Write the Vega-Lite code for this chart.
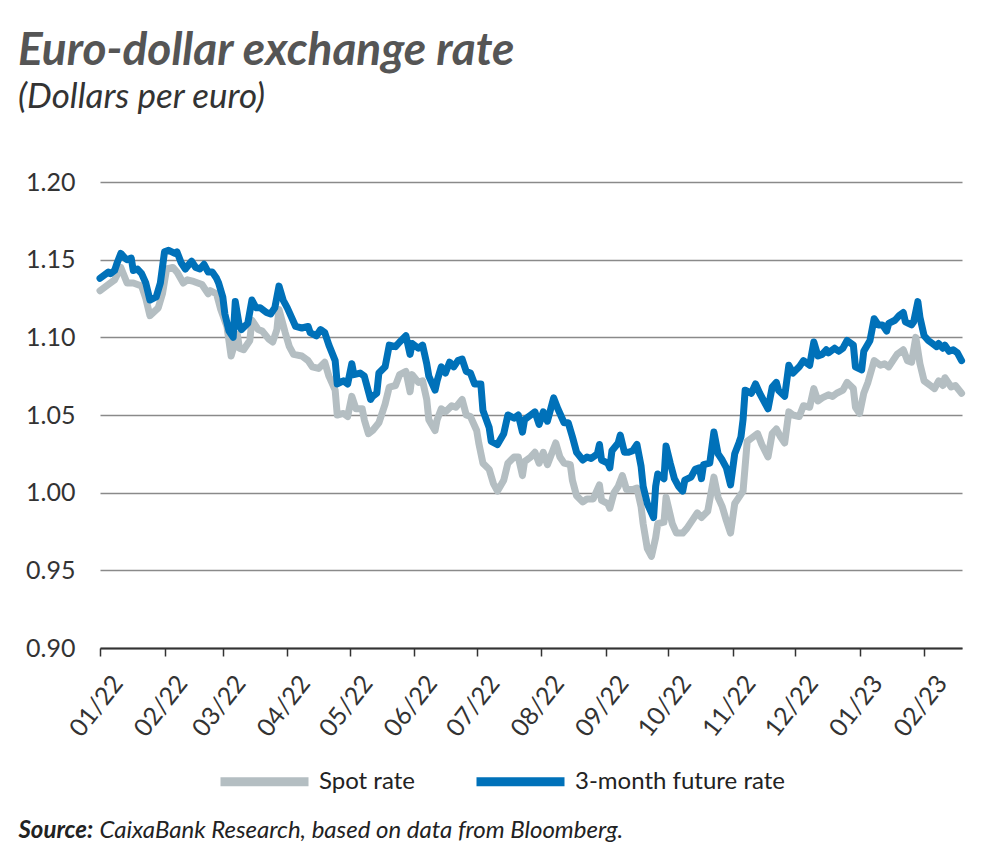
{
"$schema": "https://vega.github.io/schema/vega-lite/v6.json",
"width": 862, "height": 466,
"autosize": {"type": "none"},
"padding": {"left": 100, "top": 182, "right": 36, "bottom": 217},
"background": "white",
"config": {"view": {"stroke": null}, "font": "Lato"},
"title": {"text": "Euro-dollar exchange rate", "subtitle": "(Dollars per euro)", "anchor": "start", "frame": "group", "dx": -82, "offset": 54,
  "font": "Lato", "fontSize": 46, "fontWeight": "bold", "fontStyle": "italic", "color": "#555555",
  "subtitleFont": "Lato", "subtitleFontSize": 35, "subtitleFontStyle": "italic", "subtitleColor": "#333333", "subtitlePadding": 5},
"data": {"values": [
{"d":"2022-01-01","s":"Spot rate","v":1.130},{"d":"2022-01-05","s":"Spot rate","v":1.134},{"d":"2022-01-08","s":"Spot rate","v":1.137},{"d":"2022-01-11","s":"Spot rate","v":1.145},{"d":"2022-01-14","s":"Spot rate","v":1.135},{"d":"2022-01-17","s":"Spot rate","v":1.135},{"d":"2022-01-21","s":"Spot rate","v":1.133},{"d":"2022-01-23","s":"Spot rate","v":1.125},{"d":"2022-01-25","s":"Spot rate","v":1.114},{"d":"2022-01-29","s":"Spot rate","v":1.119},{"d":"2022-01-31","s":"Spot rate","v":1.128},
{"d":"2022-02-02","s":"Spot rate","v":1.144},{"d":"2022-02-05","s":"Spot rate","v":1.145},{"d":"2022-02-07","s":"Spot rate","v":1.142},{"d":"2022-02-10","s":"Spot rate","v":1.135},{"d":"2022-02-12","s":"Spot rate","v":1.137},{"d":"2022-02-15","s":"Spot rate","v":1.136},{"d":"2022-02-19","s":"Spot rate","v":1.134},{"d":"2022-02-22","s":"Spot rate","v":1.128},{"d":"2022-02-23","s":"Spot rate","v":1.130},{"d":"2022-02-26","s":"Spot rate","v":1.128},{"d":"2022-02-28","s":"Spot rate","v":1.118},
{"d":"2022-03-03","s":"Spot rate","v":1.107},{"d":"2022-03-05","s":"Spot rate","v":1.088},{"d":"2022-03-08","s":"Spot rate","v":1.102},{"d":"2022-03-09","s":"Spot rate","v":1.093},{"d":"2022-03-11","s":"Spot rate","v":1.092},{"d":"2022-03-14","s":"Spot rate","v":1.098},{"d":"2022-03-15","s":"Spot rate","v":1.111},{"d":"2022-03-18","s":"Spot rate","v":1.105},{"d":"2022-03-20","s":"Spot rate","v":1.104},{"d":"2022-03-23","s":"Spot rate","v":1.099},{"d":"2022-03-25","s":"Spot rate","v":1.097},{"d":"2022-03-27","s":"Spot rate","v":1.105},{"d":"2022-03-28","s":"Spot rate","v":1.118},{"d":"2022-03-31","s":"Spot rate","v":1.103},
{"d":"2022-04-02","s":"Spot rate","v":1.094},{"d":"2022-04-04","s":"Spot rate","v":1.089},{"d":"2022-04-08","s":"Spot rate","v":1.088},{"d":"2022-04-11","s":"Spot rate","v":1.085},{"d":"2022-04-13","s":"Spot rate","v":1.081},{"d":"2022-04-16","s":"Spot rate","v":1.080},{"d":"2022-04-19","s":"Spot rate","v":1.084},{"d":"2022-04-21","s":"Spot rate","v":1.075},{"d":"2022-04-24","s":"Spot rate","v":1.066},{"d":"2022-04-25","s":"Spot rate","v":1.050},{"d":"2022-04-28","s":"Spot rate","v":1.051},{"d":"2022-04-30","s":"Spot rate","v":1.049},
{"d":"2022-05-02","s":"Spot rate","v":1.062},{"d":"2022-05-04","s":"Spot rate","v":1.054},{"d":"2022-05-07","s":"Spot rate","v":1.054},{"d":"2022-05-08","s":"Spot rate","v":1.047},{"d":"2022-05-10","s":"Spot rate","v":1.038},{"d":"2022-05-12","s":"Spot rate","v":1.040},{"d":"2022-05-15","s":"Spot rate","v":1.045},{"d":"2022-05-18","s":"Spot rate","v":1.057},{"d":"2022-05-20","s":"Spot rate","v":1.068},{"d":"2022-05-23","s":"Spot rate","v":1.069},{"d":"2022-05-25","s":"Spot rate","v":1.076},{"d":"2022-05-28","s":"Spot rate","v":1.078},{"d":"2022-05-30","s":"Spot rate","v":1.065},{"d":"2022-05-31","s":"Spot rate","v":1.076},
{"d":"2022-06-03","s":"Spot rate","v":1.071},{"d":"2022-06-05","s":"Spot rate","v":1.072},{"d":"2022-06-07","s":"Spot rate","v":1.060},{"d":"2022-06-08","s":"Spot rate","v":1.047},{"d":"2022-06-11","s":"Spot rate","v":1.040},{"d":"2022-06-12","s":"Spot rate","v":1.047},{"d":"2022-06-14","s":"Spot rate","v":1.054},{"d":"2022-06-16","s":"Spot rate","v":1.052},{"d":"2022-06-19","s":"Spot rate","v":1.056},{"d":"2022-06-21","s":"Spot rate","v":1.055},{"d":"2022-06-24","s":"Spot rate","v":1.060},{"d":"2022-06-26","s":"Spot rate","v":1.050},{"d":"2022-06-28","s":"Spot rate","v":1.049},
{"d":"2022-07-01","s":"Spot rate","v":1.040},{"d":"2022-07-02","s":"Spot rate","v":1.032},{"d":"2022-07-04","s":"Spot rate","v":1.019},{"d":"2022-07-07","s":"Spot rate","v":1.015},{"d":"2022-07-09","s":"Spot rate","v":1.006},{"d":"2022-07-11","s":"Spot rate","v":1.001},{"d":"2022-07-14","s":"Spot rate","v":1.008},{"d":"2022-07-16","s":"Spot rate","v":1.019},{"d":"2022-07-19","s":"Spot rate","v":1.023},{"d":"2022-07-21","s":"Spot rate","v":1.023},{"d":"2022-07-23","s":"Spot rate","v":1.011},{"d":"2022-07-24","s":"Spot rate","v":1.020},{"d":"2022-07-27","s":"Spot rate","v":1.023},{"d":"2022-07-29","s":"Spot rate","v":1.026},{"d":"2022-07-31","s":"Spot rate","v":1.019},
{"d":"2022-08-02","s":"Spot rate","v":1.026},{"d":"2022-08-04","s":"Spot rate","v":1.018},{"d":"2022-08-08","s":"Spot rate","v":1.032},{"d":"2022-08-10","s":"Spot rate","v":1.023},{"d":"2022-08-12","s":"Spot rate","v":1.019},{"d":"2022-08-15","s":"Spot rate","v":1.018},{"d":"2022-08-16","s":"Spot rate","v":1.008},{"d":"2022-08-18","s":"Spot rate","v":0.998},{"d":"2022-08-21","s":"Spot rate","v":0.994},{"d":"2022-08-23","s":"Spot rate","v":0.996},{"d":"2022-08-26","s":"Spot rate","v":0.996},{"d":"2022-08-29","s":"Spot rate","v":1.005},{"d":"2022-08-30","s":"Spot rate","v":0.995},
{"d":"2022-09-02","s":"Spot rate","v":0.993},{"d":"2022-09-03","s":"Spot rate","v":0.990},{"d":"2022-09-05","s":"Spot rate","v":1.000},{"d":"2022-09-07","s":"Spot rate","v":1.004},{"d":"2022-09-09","s":"Spot rate","v":1.011},{"d":"2022-09-11","s":"Spot rate","v":1.002},{"d":"2022-09-14","s":"Spot rate","v":1.002},{"d":"2022-09-16","s":"Spot rate","v":1.003},{"d":"2022-09-18","s":"Spot rate","v":0.991},{"d":"2022-09-19","s":"Spot rate","v":0.980},{"d":"2022-09-21","s":"Spot rate","v":0.964},{"d":"2022-09-23","s":"Spot rate","v":0.959},{"d":"2022-09-25","s":"Spot rate","v":0.971},{"d":"2022-09-26","s":"Spot rate","v":0.980},{"d":"2022-09-29","s":"Spot rate","v":0.981},{"d":"2022-09-30","s":"Spot rate","v":0.997},
{"d":"2022-10-03","s":"Spot rate","v":0.980},{"d":"2022-10-05","s":"Spot rate","v":0.974},{"d":"2022-10-08","s":"Spot rate","v":0.974},{"d":"2022-10-10","s":"Spot rate","v":0.977},{"d":"2022-10-13","s":"Spot rate","v":0.983},{"d":"2022-10-15","s":"Spot rate","v":0.987},{"d":"2022-10-17","s":"Spot rate","v":0.984},{"d":"2022-10-20","s":"Spot rate","v":0.988},{"d":"2022-10-23","s":"Spot rate","v":1.010},{"d":"2022-10-25","s":"Spot rate","v":0.997},{"d":"2022-10-27","s":"Spot rate","v":0.991},{"d":"2022-10-29","s":"Spot rate","v":0.982},{"d":"2022-10-31","s":"Spot rate","v":0.974},
{"d":"2022-11-02","s":"Spot rate","v":0.993},{"d":"2022-11-04","s":"Spot rate","v":0.997},{"d":"2022-11-06","s":"Spot rate","v":1.001},{"d":"2022-11-08","s":"Spot rate","v":1.033},{"d":"2022-11-10","s":"Spot rate","v":1.035},{"d":"2022-11-13","s":"Spot rate","v":1.038},{"d":"2022-11-15","s":"Spot rate","v":1.031},{"d":"2022-11-18","s":"Spot rate","v":1.023},{"d":"2022-11-20","s":"Spot rate","v":1.038},{"d":"2022-11-22","s":"Spot rate","v":1.041},{"d":"2022-11-24","s":"Spot rate","v":1.036},{"d":"2022-11-26","s":"Spot rate","v":1.032},{"d":"2022-11-28","s":"Spot rate","v":1.052},{"d":"2022-11-30","s":"Spot rate","v":1.050},
{"d":"2022-12-03","s":"Spot rate","v":1.049},{"d":"2022-12-05","s":"Spot rate","v":1.056},{"d":"2022-12-08","s":"Spot rate","v":1.055},{"d":"2022-12-10","s":"Spot rate","v":1.067},{"d":"2022-12-12","s":"Spot rate","v":1.059},{"d":"2022-12-14","s":"Spot rate","v":1.061},{"d":"2022-12-17","s":"Spot rate","v":1.063},{"d":"2022-12-19","s":"Spot rate","v":1.062},{"d":"2022-12-21","s":"Spot rate","v":1.064},{"d":"2022-12-24","s":"Spot rate","v":1.066},{"d":"2022-12-26","s":"Spot rate","v":1.071},{"d":"2022-12-29","s":"Spot rate","v":1.067},{"d":"2022-12-30","s":"Spot rate","v":1.055},
{"d":"2023-01-01","s":"Spot rate","v":1.051},{"d":"2023-01-03","s":"Spot rate","v":1.064},{"d":"2023-01-05","s":"Spot rate","v":1.071},{"d":"2023-01-08","s":"Spot rate","v":1.085},{"d":"2023-01-11","s":"Spot rate","v":1.082},{"d":"2023-01-13","s":"Spot rate","v":1.083},{"d":"2023-01-15","s":"Spot rate","v":1.081},{"d":"2023-01-17","s":"Spot rate","v":1.085},{"d":"2023-01-19","s":"Spot rate","v":1.089},{"d":"2023-01-22","s":"Spot rate","v":1.092},{"d":"2023-01-24","s":"Spot rate","v":1.085},{"d":"2023-01-26","s":"Spot rate","v":1.084},{"d":"2023-01-28","s":"Spot rate","v":1.100},{"d":"2023-01-30","s":"Spot rate","v":1.083},
{"d":"2023-02-01","s":"Spot rate","v":1.072},{"d":"2023-02-04","s":"Spot rate","v":1.069},{"d":"2023-02-06","s":"Spot rate","v":1.067},{"d":"2023-02-08","s":"Spot rate","v":1.072},{"d":"2023-02-10","s":"Spot rate","v":1.069},{"d":"2023-02-11","s":"Spot rate","v":1.074},{"d":"2023-02-14","s":"Spot rate","v":1.068},{"d":"2023-02-16","s":"Spot rate","v":1.069},{"d":"2023-02-19","s":"Spot rate","v":1.064},
{"d":"2022-01-01","s":"3-month future rate","v":1.138},{"d":"2022-01-05","s":"3-month future rate","v":1.142},{"d":"2022-01-06","s":"3-month future rate","v":1.141},{"d":"2022-01-08","s":"3-month future rate","v":1.143},{"d":"2022-01-09","s":"3-month future rate","v":1.147},{"d":"2022-01-11","s":"3-month future rate","v":1.154},{"d":"2022-01-13","s":"3-month future rate","v":1.151},{"d":"2022-01-14","s":"3-month future rate","v":1.150},{"d":"2022-01-16","s":"3-month future rate","v":1.151},{"d":"2022-01-17","s":"3-month future rate","v":1.143},{"d":"2022-01-19","s":"3-month future rate","v":1.144},{"d":"2022-01-21","s":"3-month future rate","v":1.141},{"d":"2022-01-23","s":"3-month future rate","v":1.135},{"d":"2022-01-25","s":"3-month future rate","v":1.124},{"d":"2022-01-28","s":"3-month future rate","v":1.126},{"d":"2022-01-30","s":"3-month future rate","v":1.135},
{"d":"2022-02-01","s":"3-month future rate","v":1.155},{"d":"2022-02-03","s":"3-month future rate","v":1.156},{"d":"2022-02-06","s":"3-month future rate","v":1.154},{"d":"2022-02-07","s":"3-month future rate","v":1.155},{"d":"2022-02-09","s":"3-month future rate","v":1.148},{"d":"2022-02-11","s":"3-month future rate","v":1.144},{"d":"2022-02-14","s":"3-month future rate","v":1.149},{"d":"2022-02-16","s":"3-month future rate","v":1.145},{"d":"2022-02-18","s":"3-month future rate","v":1.144},{"d":"2022-02-20","s":"3-month future rate","v":1.147},{"d":"2022-02-22","s":"3-month future rate","v":1.142},{"d":"2022-02-24","s":"3-month future rate","v":1.142},{"d":"2022-02-26","s":"3-month future rate","v":1.138},{"d":"2022-02-27","s":"3-month future rate","v":1.135},
{"d":"2022-03-01","s":"3-month future rate","v":1.126},{"d":"2022-03-02","s":"3-month future rate","v":1.115},{"d":"2022-03-04","s":"3-month future rate","v":1.104},{"d":"2022-03-06","s":"3-month future rate","v":1.100},{"d":"2022-03-07","s":"3-month future rate","v":1.123},{"d":"2022-03-09","s":"3-month future rate","v":1.107},{"d":"2022-03-10","s":"3-month future rate","v":1.105},{"d":"2022-03-13","s":"3-month future rate","v":1.109},{"d":"2022-03-15","s":"3-month future rate","v":1.124},{"d":"2022-03-17","s":"3-month future rate","v":1.119},{"d":"2022-03-19","s":"3-month future rate","v":1.119},{"d":"2022-03-22","s":"3-month future rate","v":1.116},{"d":"2022-03-24","s":"3-month future rate","v":1.115},{"d":"2022-03-26","s":"3-month future rate","v":1.119},{"d":"2022-03-28","s":"3-month future rate","v":1.133},{"d":"2022-03-30","s":"3-month future rate","v":1.124},
{"d":"2022-04-01","s":"3-month future rate","v":1.119},{"d":"2022-04-03","s":"3-month future rate","v":1.113},{"d":"2022-04-05","s":"3-month future rate","v":1.107},{"d":"2022-04-08","s":"3-month future rate","v":1.106},{"d":"2022-04-11","s":"3-month future rate","v":1.107},{"d":"2022-04-12","s":"3-month future rate","v":1.103},{"d":"2022-04-15","s":"3-month future rate","v":1.101},{"d":"2022-04-17","s":"3-month future rate","v":1.105},{"d":"2022-04-19","s":"3-month future rate","v":1.103},{"d":"2022-04-21","s":"3-month future rate","v":1.095},{"d":"2022-04-24","s":"3-month future rate","v":1.085},{"d":"2022-04-25","s":"3-month future rate","v":1.070},{"d":"2022-04-28","s":"3-month future rate","v":1.072},{"d":"2022-04-30","s":"3-month future rate","v":1.070},
{"d":"2022-05-02","s":"3-month future rate","v":1.083},{"d":"2022-05-03","s":"3-month future rate","v":1.076},{"d":"2022-05-06","s":"3-month future rate","v":1.077},{"d":"2022-05-08","s":"3-month future rate","v":1.075},{"d":"2022-05-09","s":"3-month future rate","v":1.070},{"d":"2022-05-11","s":"3-month future rate","v":1.060},{"d":"2022-05-12","s":"3-month future rate","v":1.062},{"d":"2022-05-14","s":"3-month future rate","v":1.064},{"d":"2022-05-15","s":"3-month future rate","v":1.077},{"d":"2022-05-18","s":"3-month future rate","v":1.081},{"d":"2022-05-20","s":"3-month future rate","v":1.095},{"d":"2022-05-23","s":"3-month future rate","v":1.094},{"d":"2022-05-25","s":"3-month future rate","v":1.097},{"d":"2022-05-28","s":"3-month future rate","v":1.101},{"d":"2022-05-30","s":"3-month future rate","v":1.089},{"d":"2022-05-31","s":"3-month future rate","v":1.096},
{"d":"2022-06-03","s":"3-month future rate","v":1.093},{"d":"2022-06-05","s":"3-month future rate","v":1.095},{"d":"2022-06-07","s":"3-month future rate","v":1.083},{"d":"2022-06-08","s":"3-month future rate","v":1.075},{"d":"2022-06-11","s":"3-month future rate","v":1.066},{"d":"2022-06-12","s":"3-month future rate","v":1.072},{"d":"2022-06-14","s":"3-month future rate","v":1.081},{"d":"2022-06-16","s":"3-month future rate","v":1.077},{"d":"2022-06-18","s":"3-month future rate","v":1.084},{"d":"2022-06-20","s":"3-month future rate","v":1.081},{"d":"2022-06-22","s":"3-month future rate","v":1.085},{"d":"2022-06-24","s":"3-month future rate","v":1.086},{"d":"2022-06-26","s":"3-month future rate","v":1.078},{"d":"2022-06-28","s":"3-month future rate","v":1.077},{"d":"2022-06-30","s":"3-month future rate","v":1.070},
{"d":"2022-07-03","s":"3-month future rate","v":1.070},{"d":"2022-07-04","s":"3-month future rate","v":1.053},{"d":"2022-07-07","s":"3-month future rate","v":1.042},{"d":"2022-07-08","s":"3-month future rate","v":1.033},{"d":"2022-07-11","s":"3-month future rate","v":1.031},{"d":"2022-07-14","s":"3-month future rate","v":1.038},{"d":"2022-07-16","s":"3-month future rate","v":1.050},{"d":"2022-07-19","s":"3-month future rate","v":1.048},{"d":"2022-07-21","s":"3-month future rate","v":1.050},{"d":"2022-07-23","s":"3-month future rate","v":1.039},{"d":"2022-07-24","s":"3-month future rate","v":1.047},{"d":"2022-07-27","s":"3-month future rate","v":1.050},{"d":"2022-07-29","s":"3-month future rate","v":1.052},{"d":"2022-07-31","s":"3-month future rate","v":1.044},
{"d":"2022-08-02","s":"3-month future rate","v":1.052},{"d":"2022-08-04","s":"3-month future rate","v":1.046},{"d":"2022-08-07","s":"3-month future rate","v":1.061},{"d":"2022-08-09","s":"3-month future rate","v":1.054},{"d":"2022-08-12","s":"3-month future rate","v":1.045},{"d":"2022-08-14","s":"3-month future rate","v":1.045},{"d":"2022-08-16","s":"3-month future rate","v":1.036},{"d":"2022-08-18","s":"3-month future rate","v":1.026},{"d":"2022-08-21","s":"3-month future rate","v":1.021},{"d":"2022-08-23","s":"3-month future rate","v":1.023},{"d":"2022-08-25","s":"3-month future rate","v":1.022},{"d":"2022-08-28","s":"3-month future rate","v":1.025},{"d":"2022-08-29","s":"3-month future rate","v":1.031},{"d":"2022-08-30","s":"3-month future rate","v":1.021},
{"d":"2022-09-02","s":"3-month future rate","v":1.019},{"d":"2022-09-03","s":"3-month future rate","v":1.016},{"d":"2022-09-04","s":"3-month future rate","v":1.027},{"d":"2022-09-07","s":"3-month future rate","v":1.032},{"d":"2022-09-08","s":"3-month future rate","v":1.037},{"d":"2022-09-10","s":"3-month future rate","v":1.026},{"d":"2022-09-12","s":"3-month future rate","v":1.026},{"d":"2022-09-14","s":"3-month future rate","v":1.027},{"d":"2022-09-16","s":"3-month future rate","v":1.031},{"d":"2022-09-18","s":"3-month future rate","v":1.017},{"d":"2022-09-19","s":"3-month future rate","v":1.004},{"d":"2022-09-21","s":"3-month future rate","v":0.993},{"d":"2022-09-22","s":"3-month future rate","v":0.990},{"d":"2022-09-24","s":"3-month future rate","v":0.984},{"d":"2022-09-25","s":"3-month future rate","v":1.004},{"d":"2022-09-26","s":"3-month future rate","v":1.012},{"d":"2022-09-29","s":"3-month future rate","v":1.009},{"d":"2022-09-30","s":"3-month future rate","v":1.030},
{"d":"2022-10-02","s":"3-month future rate","v":1.019},{"d":"2022-10-04","s":"3-month future rate","v":1.009},{"d":"2022-10-06","s":"3-month future rate","v":1.004},{"d":"2022-10-08","s":"3-month future rate","v":1.001},{"d":"2022-10-09","s":"3-month future rate","v":1.008},{"d":"2022-10-12","s":"3-month future rate","v":1.010},{"d":"2022-10-14","s":"3-month future rate","v":1.015},{"d":"2022-10-16","s":"3-month future rate","v":1.016},{"d":"2022-10-17","s":"3-month future rate","v":1.009},{"d":"2022-10-18","s":"3-month future rate","v":1.018},{"d":"2022-10-21","s":"3-month future rate","v":1.019},{"d":"2022-10-23","s":"3-month future rate","v":1.039},{"d":"2022-10-25","s":"3-month future rate","v":1.025},{"d":"2022-10-27","s":"3-month future rate","v":1.021},{"d":"2022-10-29","s":"3-month future rate","v":1.016},{"d":"2022-10-31","s":"3-month future rate","v":1.005},
{"d":"2022-11-02","s":"3-month future rate","v":1.025},{"d":"2022-11-04","s":"3-month future rate","v":1.032},{"d":"2022-11-05","s":"3-month future rate","v":1.036},{"d":"2022-11-06","s":"3-month future rate","v":1.047},{"d":"2022-11-07","s":"3-month future rate","v":1.066},{"d":"2022-11-10","s":"3-month future rate","v":1.064},{"d":"2022-11-12","s":"3-month future rate","v":1.070},{"d":"2022-11-14","s":"3-month future rate","v":1.064},{"d":"2022-11-18","s":"3-month future rate","v":1.054},{"d":"2022-11-20","s":"3-month future rate","v":1.068},{"d":"2022-11-22","s":"3-month future rate","v":1.071},{"d":"2022-11-23","s":"3-month future rate","v":1.066},{"d":"2022-11-26","s":"3-month future rate","v":1.062},{"d":"2022-11-28","s":"3-month future rate","v":1.082},{"d":"2022-11-30","s":"3-month future rate","v":1.077},
{"d":"2022-12-03","s":"3-month future rate","v":1.081},{"d":"2022-12-05","s":"3-month future rate","v":1.085},{"d":"2022-12-08","s":"3-month future rate","v":1.082},{"d":"2022-12-10","s":"3-month future rate","v":1.097},{"d":"2022-12-12","s":"3-month future rate","v":1.088},{"d":"2022-12-14","s":"3-month future rate","v":1.089},{"d":"2022-12-16","s":"3-month future rate","v":1.092},{"d":"2022-12-17","s":"3-month future rate","v":1.090},{"d":"2022-12-20","s":"3-month future rate","v":1.093},{"d":"2022-12-22","s":"3-month future rate","v":1.091},{"d":"2022-12-24","s":"3-month future rate","v":1.093},{"d":"2022-12-26","s":"3-month future rate","v":1.098},{"d":"2022-12-29","s":"3-month future rate","v":1.095},{"d":"2022-12-30","s":"3-month future rate","v":1.081},
{"d":"2023-01-02","s":"3-month future rate","v":1.079},{"d":"2023-01-03","s":"3-month future rate","v":1.091},{"d":"2023-01-06","s":"3-month future rate","v":1.098},{"d":"2023-01-08","s":"3-month future rate","v":1.112},{"d":"2023-01-10","s":"3-month future rate","v":1.108},{"d":"2023-01-12","s":"3-month future rate","v":1.108},{"d":"2023-01-14","s":"3-month future rate","v":1.104},{"d":"2023-01-15","s":"3-month future rate","v":1.109},{"d":"2023-01-18","s":"3-month future rate","v":1.111},{"d":"2023-01-20","s":"3-month future rate","v":1.114},{"d":"2023-01-22","s":"3-month future rate","v":1.116},{"d":"2023-01-23","s":"3-month future rate","v":1.110},{"d":"2023-01-26","s":"3-month future rate","v":1.108},{"d":"2023-01-27","s":"3-month future rate","v":1.110},{"d":"2023-01-29","s":"3-month future rate","v":1.123},{"d":"2023-01-30","s":"3-month future rate","v":1.113},
{"d":"2023-02-01","s":"3-month future rate","v":1.101},{"d":"2023-02-03","s":"3-month future rate","v":1.098},{"d":"2023-02-05","s":"3-month future rate","v":1.096},{"d":"2023-02-07","s":"3-month future rate","v":1.094},{"d":"2023-02-08","s":"3-month future rate","v":1.096},{"d":"2023-02-10","s":"3-month future rate","v":1.093},{"d":"2023-02-11","s":"3-month future rate","v":1.095},{"d":"2023-02-13","s":"3-month future rate","v":1.091},{"d":"2023-02-15","s":"3-month future rate","v":1.092},{"d":"2023-02-17","s":"3-month future rate","v":1.090},{"d":"2023-02-19","s":"3-month future rate","v":1.085}
]},
"encoding": {
  "x": {"field": "d", "type": "temporal",
    "scale": {"type": "utc", "domain": [{"year": 2022, "month": 1, "date": 1, "utc": true}, {"year": 2023, "month": 2, "date": 19, "hours": 5, "utc": true}]},
    "axis": {"format": "%m/%y", "tickCount": {"interval": "month", "step": 1}, "labelAngle": -52, "labelAlign": "right", "labelBaseline": "top",
      "labelPadding": 15, "labelOffset": 8, "labelFont": "Lato", "labelFontSize": 25, "labelColor": "#333333", "labelFlush": false, "labelOverlap": false, "labelBound": false,
      "tickSize": 8, "tickColor": "#333333", "tickWidth": 1.5, "domainColor": "#333333", "domainWidth": 2, "grid": false,
      "title": "Source:", "titleFont": "Lato", "titleFontSize": 24, "titleFontWeight": "bold", "titleFontStyle": "italic", "titleColor": "#222222",
      "titleX": -82, "titleY": 189, "titleAlign": "left", "titleAnchor": null, "titleBaseline": "alphabetic", "titleAngle": 0}},
  "y": {"field": "v", "type": "quantitative",
    "scale": {"domain": [0.9, 1.2], "nice": false, "zero": false},
    "axis": {"values": [0.9, 0.95, 1.0, 1.05, 1.1, 1.15, 1.2], "format": ".2f", "domain": false, "ticks": false, "grid": true, "gridColor": "#8a8a8a", "gridWidth": 1.5,
      "labelPadding": 25, "labelFont": "Lato", "labelFontSize": 25, "labelColor": "#333333",
      "title": "CaixaBank Research, based on data from Bloomberg.", "titleFont": "Lato", "titleFontSize": 24, "titleFontWeight": "normal", "titleFontStyle": "italic", "titleColor": "#222222",
      "titleAngle": 0, "titleX": -1, "titleY": 655, "titleAlign": "left", "titleAnchor": null, "titleBaseline": "alphabetic"}},
  "color": {"field": "s", "type": "nominal",
    "scale": {"domain": ["Spot rate", "3-month future rate"], "range": ["#b4bec2", "#0071b9"]},
    "legend": {"orient": "none", "legendX": 116, "legendY": 551, "direction": "horizontal", "title": null,
      "symbolType": "stroke", "symbolSize": 7744, "symbolStrokeWidth": 9,
      "labelFont": "Lato", "labelFontSize": 24, "labelColor": "#222222", "labelOffset": 6, "columnPadding": 43, "labelLimit": 400}}
},
"layer": [
  {"transform": [{"filter": "datum.s === 'Spot rate'"}], "mark": {"type": "line", "strokeWidth": 7, "strokeJoin": "round", "strokeCap": "round"}},
  {"transform": [{"filter": "datum.s !== 'Spot rate'"}], "mark": {"type": "line", "strokeWidth": 7, "strokeJoin": "round", "strokeCap": "round"}}
]
}
